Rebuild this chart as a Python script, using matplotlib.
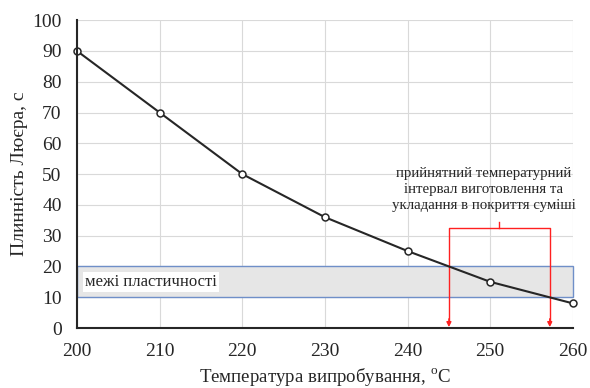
import matplotlib
matplotlib.use("Agg")
import matplotlib.pyplot as plt
from matplotlib.patches import Rectangle

plt.rcParams["font.family"] = ["Liberation Serif", "DejaVu Serif"]
plt.rcParams["mathtext.fontset"] = "custom"
plt.rcParams["mathtext.rm"] = "Liberation Serif"

# data
temps = [200, 210, 220, 230, 240, 250, 260]
flow = [90, 70, 50, 36, 25, 15, 8]
x_ticks = [200, 210, 220, 230, 240, 250, 260]
y_ticks = [0, 10, 20, 30, 40, 50, 60, 70, 80, 90, 100]
band_low, band_high = 10, 20
range_lo, range_hi = 245.0, 257.2
bracket_y = 32.5
band_label = "межі пластичності"
range_label = "прийнятний температурний\nінтервал виготовлення та\nукладання в покриття суміші"

fig = plt.figure(figsize=(5.9, 3.88), dpi=100)
ax = fig.add_axes([0.1305, 0.1546, 0.8405, 0.7934])

ax.set_xlim(200, 260)
ax.set_ylim(0, 100)
ax.set_xticks(x_ticks)
ax.set_yticks(y_ticks)
ax.grid(True, color="#d9d9d9", linewidth=0.8)
ax.set_axisbelow(True)
for s in ["top", "right"]:
    ax.spines[s].set_visible(False)
for s in ["left", "bottom"]:
    ax.spines[s].set_color("#262626")
    ax.spines[s].set_linewidth(1.5)
    ax.spines[s].set_zorder(6)
ax.tick_params(length=0, labelsize=14, labelcolor="#262626")
ax.tick_params(axis="x", pad=11)
ax.tick_params(axis="y", pad=11)

# plasticity band
ax.add_patch(Rectangle((200, band_low), 60, band_high - band_low, facecolor="#e6e6e6",
                       edgecolor="#6f8fc8", linewidth=1.0, zorder=2, clip_on=False))
ax.text(201, (band_low + band_high) / 2, band_label, fontsize=12, va="center", ha="left",
        zorder=3, color="#262626", bbox=dict(facecolor="white", edgecolor="none", pad=1.5))

# curve
ax.plot(temps, flow, color="#262626", linewidth=1.5, marker="o", markersize=5,
        markerfacecolor="white", markeredgecolor="#262626", markeredgewidth=1.1,
        zorder=5, clip_on=False)

# red bracket with arrows
red = "#ff2020"
ax.plot([range_lo, range_lo, range_hi, range_hi], [1.5, bracket_y, bracket_y, 1.5],
        color=red, linewidth=1.0, zorder=4)
mid = (range_lo + range_hi) / 2
ax.plot([mid, mid], [bracket_y, bracket_y + 1.8], color=red, linewidth=1.0, zorder=4)
for xx in [range_lo, range_hi]:
    ax.annotate("", xy=(xx, 0.3), xytext=(xx, 3),
                arrowprops=dict(arrowstyle="-|>", color=red, lw=1.0,
                                mutation_scale=7, shrinkA=0, shrinkB=0), zorder=4)
ax.text(249.2, 45.0, range_label, fontsize=10.7, ha="center", va="center",
        linespacing=1.3, color="#262626")

ax.set_xlabel("Температура випробування, $^{\\mathrm{o}}$C", fontsize=13.6, labelpad=4,
              color="#262626")
ax.set_ylabel("Плинність Люєра, с", fontsize=14, labelpad=3, color="#262626")

fig.savefig("out.png", dpi=100)
